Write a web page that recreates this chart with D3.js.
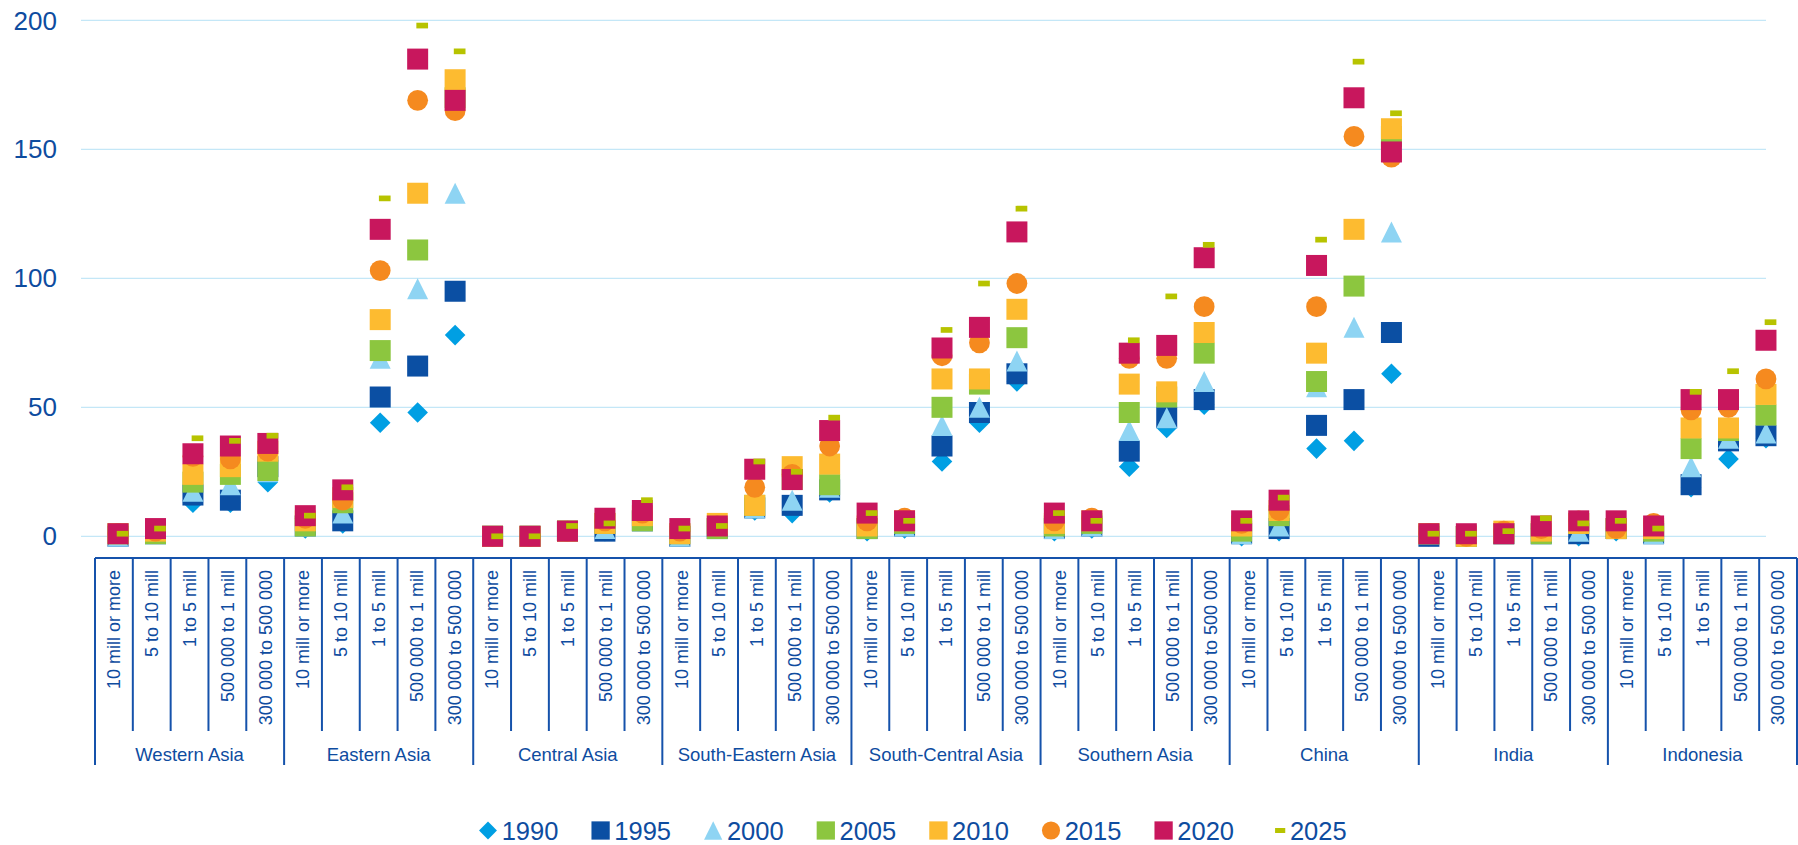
<!DOCTYPE html>
<html>
<head>
<meta charset="utf-8">
<script src="https://cdn.jsdelivr.net/npm/d3@7"></script>
<style>
  body { margin: 0; background: #fff; }
  svg { display: block; font-family: "Liberation Sans", Arial, sans-serif; }
</style>
</head>
<body>
<svg></svg>
<script>
const width = 1798;
const height = 845;

const groups = ["Western Asia", "Eastern Asia", "Central Asia", "South-Eastern Asia", "South-Central Asia",
  "Southern Asia", "China", "India", "Indonesia"];
const sizes = ["10 mill or more", "5 to 10 mill", "1 to 5 mill", "500 000 to 1 mill", "300 000 to 500 000"];
const years = ["1990", "1995", "2000", "2005", "2010", "2015", "2020", "2025"];
const yTicks = [0, 50, 100, 150, 200];

// one value per column, groups in order, 5 size classes each
const v1990 = [0,1,13,13,21, 3,5,44,48,78, 0,0,2,2,6, 0,3,10,9,17, 2,3,29,44,60, 2,3,27,42,51, 0,2,34,37,63, 0,0,1,1,0, 2,1,19,30,38];
const v1995 = [0,1,16,14,27, 4,6,54,66,95, 0,0,2,2,6, 0,3,11,12,18, 3,4,35,48,63, 3,4,33,46,53, 1,3,43,53,79, 0,0,1,1,1, 3,1,20,37,39];
const v2000 = [0,1,17.5,20,25, 4,9,69,96,133, 0,0,2,3,6, 0,3,11,14,19, 3,4,43,50,68, 3,4,41,46,60, 1,4,58,81,118, 1,0,1,1,2, 3,1,27,38,40];
const v2005 = [1,1,21,24,25.5, 4,13,72,111,170, 0,0,2,5,6, 1,3,12,22,20, 3,5,50,59,77, 4,5,48,54,71, 2,8,60,97,155, 1,0,1,1,5, 3,2,34,41,47];
const v2010 = [1,2,24,27,33, 6,15,84,133,177, 0,0,2,5,8, 1,5,12,27,28, 4,6,61,61,88, 5,6,59,56,79, 4,10,71,119,158, 1,0,2,2,5, 3,3,42,42,55];
const v2015 = [1,2,31,30,33, 7,14,103,169,165, 0,0,2,6,9, 2,4,19,24,35, 6,7,70,75,98, 6,7,69,69,89, 5,10,89,155,147, 1,0,2,3,6, 3,5,49,50,61];
const v2020 = [1,3,32,35,36, 8,18,119,185,169, 0,0,2,7,10, 3,4,26,22,41, 9,6,73,81,118, 9,6,71,74,108, 6,14,105,170,149, 1,1,1,4,6, 6,4,53,53,76];
const v2025 = [1,3,38,37,39, 8,19,131,198,188, 0,0,4,5,14, 3,4,29,25,46, 9,6,80,98,127, 9,6,76,93,113, 6,15,115,184,164, 1,1,2,7,5, 6,3,56,64,83];

const values = [v1990, v1995, v2000, v2005, v2010, v2015, v2020, v2025];
const colors = ["#009fe3", "#0b4fa3", "#8ed4f3", "#8cc63f", "#fdbb30", "#f58a1f", "#c8175d", "#b7c300"];
const shapes = ["diamond", "square", "triangle", "square", "square", "circle", "square", "dash"];

const textColor = "#0e4c9f";
const axisColor = "#1552ab";
const gridColor = "#c4e7f7";

const cats = groups.flatMap(g => sizes.map(s => g + "|" + s));
const series = years.map((year, i) => ({ year, values: values[i], color: colors[i], shape: shapes[i] }));

const svg = d3.select("svg").attr("width", width).attr("height", height);

const y = d3.scaleLinear().domain([0, 200]).range([536.3, 20.4]);
const xPoint = d3.scaleBand().domain(cats).range([99.3, 1784.7]);
const xCat = d3.scaleBand().domain(cats).range([95, 1797]);
const px = c => xPoint(c) + xPoint.bandwidth() / 2;

function markerPath(shape, k) {
  const p = d3.path();
  const h = 10.5 * k;
  if (shape === "square") {
    p.rect(-h, -h, 2 * h, 2 * h);
  } else if (shape === "diamond") {
    const d = 10.3 * k;
    p.moveTo(0, -d); p.lineTo(d, 0); p.lineTo(0, d); p.lineTo(-d, 0); p.closePath();
  } else if (shape === "triangle") {
    p.moveTo(0, -h); p.lineTo(h, h); p.lineTo(-h, h); p.closePath();
  } else if (shape === "circle") {
    const r = 10.4 * k;
    p.moveTo(r, 0); p.arc(0, 0, r, 0, 2 * Math.PI);
  } else {
    p.rect(-1.3 * k, -2.85 * k, 11.7 * k, 5.7 * k);
  }
  return p.toString();
}

// gridlines + y labels
svg.append("g").selectAll("line")
  .data(yTicks)
  .join("line")
  .attr("x1", 81).attr("x2", 1766)
  .attr("y1", d => y(d)).attr("y2", d => y(d))
  .attr("stroke", gridColor).attr("stroke-width", 1.2);

svg.append("g").selectAll("text")
  .data(yTicks)
  .join("text")
  .attr("x", 57).attr("y", d => y(d)).attr("dy", "0.35em")
  .attr("text-anchor", "end")
  .attr("font-size", 26)
  .attr("fill", textColor)
  .text(d => d);

// category axis
const axis = svg.append("g").attr("stroke", axisColor).attr("stroke-width", 2);
axis.append("line").attr("x1", xCat.range()[0]).attr("x2", xCat.range()[1]).attr("y1", 558).attr("y2", 558);
const edges = cats.map(c => xCat(c)).concat([xCat.range()[1]]);
axis.selectAll(".sep")
  .data(edges)
  .join("line")
  .attr("class", "sep")
  .attr("x1", d => d).attr("x2", d => d)
  .attr("y1", 558)
  .attr("y2", (d, i) => i % sizes.length === 0 ? 765 : 731);

svg.append("g").selectAll("text")
  .data(cats)
  .join("text")
  .attr("transform", d => `translate(${xCat(d) + xCat.bandwidth() / 2},570) rotate(-90)`)
  .attr("dy", "0.35em")
  .attr("text-anchor", "end")
  .attr("font-size", 18)
  .attr("fill", textColor)
  .text(d => d.split("|")[1]);

svg.append("g").selectAll("text")
  .data(groups)
  .join("text")
  .attr("x", (d, i) => (xCat(cats[i * sizes.length]) + xCat(cats[i * sizes.length + sizes.length - 1]) + xCat.bandwidth()) / 2)
  .attr("y", 760.5)
  .attr("text-anchor", "middle")
  .attr("font-size", 18.5)
  .attr("fill", textColor)
  .text(d => d);

// markers
series.forEach(s => {
  svg.append("g").selectAll("path")
    .data(s.values.map((v, i) => ({ v, cat: cats[i] })))
    .join("path")
    .attr("d", markerPath(s.shape, 1))
    .attr("transform", d => `translate(${px(d.cat)},${y(d.v)})`)
    .attr("fill", s.color);
});

// legend
const legend = svg.append("g").attr("id", "legend");
series.forEach((s, i) => {
  const x0 = 479 + i * 112.6;
  legend.append("path")
    .attr("d", markerPath(s.shape, 0.87))
    .attr("transform", `translate(${x0 + 9},830.5)`)
    .attr("fill", s.color);
  legend.append("text")
    .attr("x", x0 + 22.7).attr("y", 839.5)
    .attr("font-size", 25.5)
    .attr("fill", textColor)
    .text(s.year);
});
</script>
</body>
</html>
